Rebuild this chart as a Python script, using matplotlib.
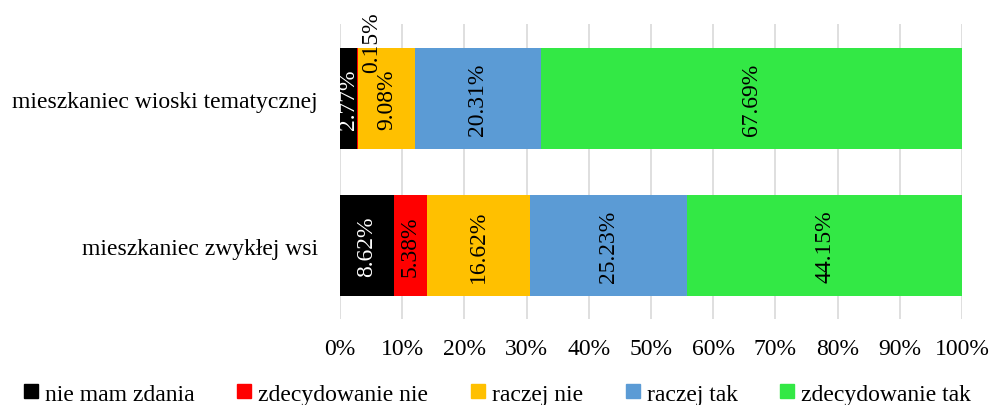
import matplotlib
matplotlib.use("Agg")
import matplotlib.pyplot as plt
from matplotlib.lines import Line2D
import numpy as np

plt.rcParams['font.family'] = ['Liberation Serif', 'DejaVu Serif']

categories = ["mieszkaniec zwykłej wsi", "mieszkaniec wioski tematycznej"]
series = ["nie mam zdania", "zdecydowanie nie", "raczej nie", "raczej tak", "zdecydowanie tak"]
values = {
    "nie mam zdania":   [8.62, 2.77],
    "zdecydowanie nie": [5.38, 0.15],
    "raczej nie":       [16.62, 9.08],
    "raczej tak":       [25.23, 20.31],
    "zdecydowanie tak": [44.15, 67.69],
}
colors = ["#000000", "#FF0000", "#FFC000", "#5B9BD5", "#33E845"]
text_colors = ["white", "black", "black", "black", "black"]
xticks = [0, 10, 20, 30, 40, 50, 60, 70, 80, 90, 100]

fig = plt.figure(figsize=(9.9, 4.06), dpi=100)
ax = fig.add_axes([340/990, 1-320/406, (962-340)/990, 295/406])

y = np.arange(len(categories))
left = np.zeros(len(categories))
fs = 17
for s, c, tc in zip(series, colors, text_colors):
    v = np.array(values[s])
    ax.barh(y, v, left=left, height=0.687, color=c, zorder=3)
    for i, (yy, val, l) in enumerate(zip(y, v, left)):
        if val < 1:
            ax.text(l + val/2 + 2.2, yy + 0.39, f"{val:.2f}%", rotation=90,
                    ha="center", va="center", color="black", fontsize=fs, zorder=4)
        else:
            ax.text(l + val/2, yy, f"{val:.2f}%", rotation=90, ha="center",
                    va="center", color=tc, fontsize=fs, zorder=4)
    left += v

ax.set_xlim(0, 100)
ax.set_ylim(-0.5, 1.507)
ax.set_xticks(xticks)
ax.set_xticklabels([f"{t}%" for t in xticks], fontsize=fs)
ax.set_yticks(y)
ax.set_yticklabels(categories, fontsize=fs)
ax.tick_params(axis='both', length=0)
ax.tick_params(axis='x', pad=14)
ax.tick_params(axis='y', pad=16)
ax.grid(axis='x', color='#D9D9D9', linewidth=1.2, zorder=0)
for sp in ax.spines.values():
    sp.set_visible(False)

handles = [Line2D([0], [0], marker='s', linestyle='none', markersize=10,
                  markerfacecolor=c, markeredgecolor=c) for c in colors]
fig.legend(handles, series, loc='center', bbox_to_anchor=(0.5, 1-395/406),
           ncol=5, frameon=False, fontsize=fs, handletextpad=0.1,
           columnspacing=1.6, handlelength=1.0, borderaxespad=0)

fig.savefig("out.png", dpi=100)
